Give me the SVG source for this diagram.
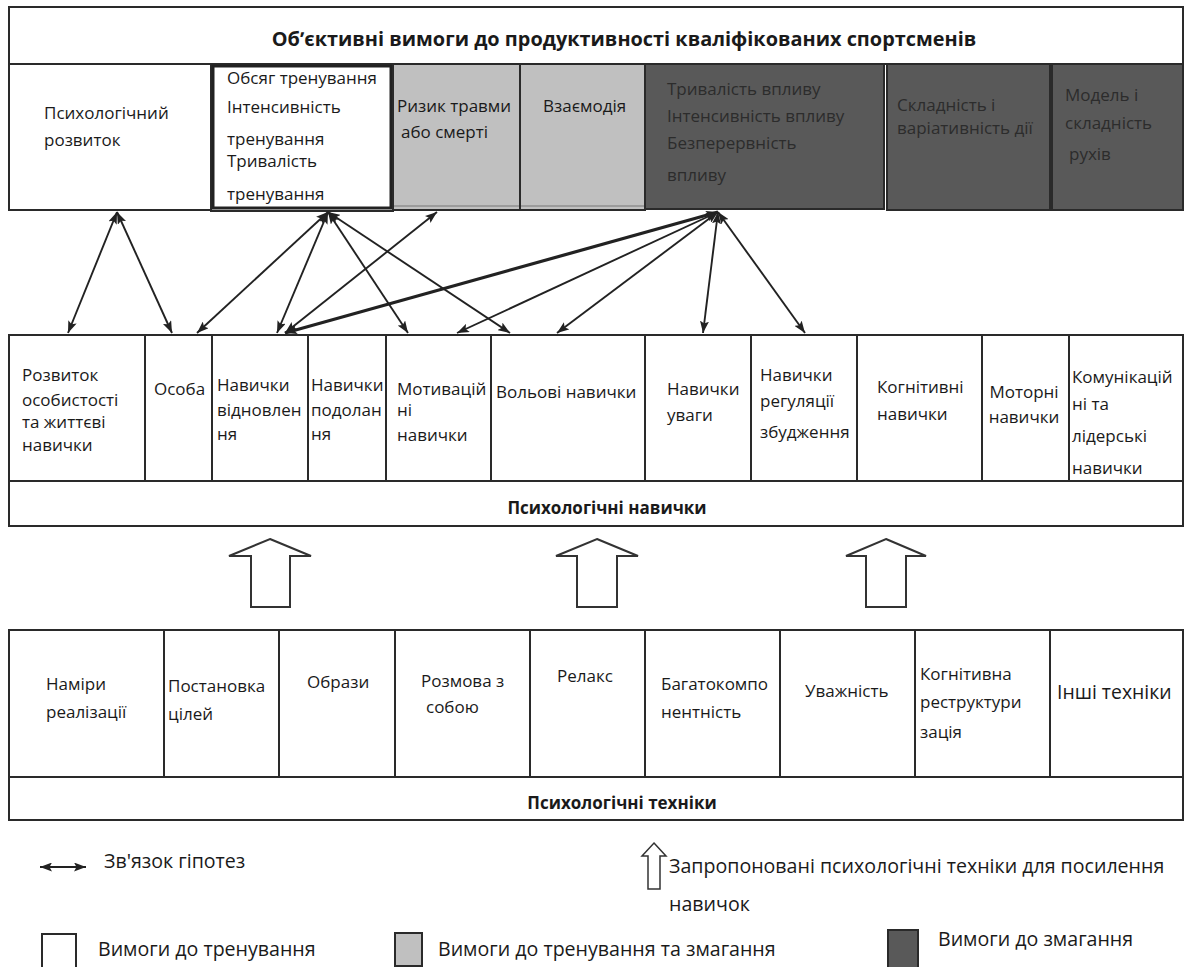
<svg xmlns="http://www.w3.org/2000/svg" width="1188" height="967" viewBox="0 0 1188 967">
<style>
.bx{stroke:#2a2a2a;stroke-width:2;fill:#fff}
.lg{fill:#c0c0c0}
.dk{fill:#595959}
.t{font-family:"Open Sans","Noto Sans",sans-serif;font-size:17px;fill:#1a1a1a}
.td{fill:#2c2c2c}
.b{font-weight:bold}
.leg{font-size:19.6px}
.ttl{font-size:19.9px}
.big{font-size:19.4px}
.cn{stroke:#222;stroke-width:1.9;fill:none;marker-start:url(#ah);marker-end:url(#ah)}
.ua{fill:#fff;stroke:#333;stroke-width:2}
</style>
<defs>
<marker id="ah" viewBox="0 0 12 9" refX="12" refY="4.5" markerWidth="12" markerHeight="9" markerUnits="userSpaceOnUse" orient="auto-start-reverse">
<path d="M0,0 L12,4.5 L0,9 L2.5,4.5 z" fill="#222"/>
</marker>
</defs>
<rect width="1188" height="967" fill="#fff"/>

<g id="title">
<rect class="bx" x="9" y="7" width="1174" height="57"/>
<text class="t b ttl" x="624" y="46" text-anchor="middle">Обʼєктивні вимоги до продуктивності кваліфікованих спортсменів</text>
</g>

<g id="req-psych-dev">
<rect class="bx" x="9" y="64" width="202" height="146"/>
<text class="t" x="44" y="119">Психологічний</text>
<text class="t" x="44" y="146">розвиток</text>
</g>
<g id="req-training-load">
<rect class="bx" x="211" y="64" width="182" height="147"/>
<rect x="213" y="66" width="178" height="142" fill="#fff" stroke="#222" stroke-width="3"/>
<text class="t" x="227" y="84">Обсяг тренування</text>
<text class="t" x="227" y="113">Інтенсивність</text>
<text class="t" x="227" y="145">тренування</text>
<text class="t" x="227" y="167">Тривалість</text>
<text class="t" x="227" y="200">тренування</text>
</g>
<g id="req-injury">
<rect class="bx lg" x="393" y="64" width="127" height="146"/>
<line x1="394" y1="206" x2="519" y2="206" stroke="#777" stroke-width="1"/>
<text class="t" x="397" y="112">Ризик травми</text>
<text class="t" x="401" y="138">або смерті</text>
</g>
<g id="req-interaction">
<rect class="bx lg" x="520" y="64" width="125" height="146"/>
<line x1="521" y1="206" x2="644" y2="206" stroke="#777" stroke-width="1"/>
<text class="t" x="543" y="112">Взаємодія</text>
</g>
<g id="req-impact">
<rect class="bx dk" x="645" y="64" width="239" height="145"/>
<text class="t td" x="667" y="95">Тривалість впливу</text>
<text class="t td" x="667" y="122">Інтенсивність впливу</text>
<text class="t td" x="667" y="149">Безперервність</text>
<text class="t td" x="667" y="181">впливу</text>
</g>
<g id="req-complexity">
<rect class="bx dk" x="887" y="64" width="163" height="146"/>
<text class="t td" x="897" y="111">Складність і</text>
<text class="t td" x="897" y="134">варіативність дії</text>
</g>
<g id="req-model">
<rect class="bx dk" x="1052" y="64" width="131" height="146"/>
<text class="t td" x="1065" y="101">Модель і</text>
<text class="t td" x="1065" y="129">складність</text>
<text class="t td" x="1069" y="160">рухів</text>
</g>

<g id="connectors">
<line class="cn" x1="117" y1="212" x2="68" y2="333"/>
<line class="cn" x1="117" y1="212" x2="172" y2="333"/>
<line class="cn" x1="328" y1="212" x2="197" y2="333"/>
<line class="cn" x1="328" y1="212" x2="277" y2="333"/>
<line class="cn" x1="328" y1="212" x2="408" y2="333"/>
<line class="cn" x1="328" y1="212" x2="510" y2="333"/>
<line class="cn" x1="437" y1="212" x2="285" y2="333"/>
<line class="cn" x1="718" y1="212" x2="285" y2="333" style="stroke-width:3.2"/>
<line class="cn" x1="718" y1="212" x2="457" y2="333"/>
<line class="cn" x1="718" y1="212" x2="557" y2="333"/>
<line class="cn" x1="718" y1="212" x2="703" y2="333"/>
<line class="cn" x1="718" y1="212" x2="805" y2="333"/>
</g>

<g id="skill-personal">
<rect class="bx" x="9" y="335" width="136" height="146"/>
<text class="t" x="22" y="381">Розвиток</text>
<text class="t" x="22" y="406">особистості</text>
<text class="t" x="22" y="428">та життєві</text>
<text class="t" x="22" y="451">навички</text>
</g>
<g id="skill-person">
<rect class="bx" x="145" y="335" width="67" height="146"/>
<text class="t" x="154" y="395">Особа</text>
</g>
<g id="skill-recovery">
<rect class="bx" x="212" y="335" width="96" height="146"/>
<text class="t" x="217" y="391">Навички</text>
<text class="t" x="217" y="416">відновлен</text>
<text class="t" x="217" y="440">ня</text>
</g>
<g id="skill-coping">
<rect class="bx" x="308" y="335" width="78" height="146"/>
<text class="t" x="311" y="391">Навички</text>
<text class="t" x="311" y="416">подолан</text>
<text class="t" x="311" y="440">ня</text>
</g>
<g id="skill-motivation">
<rect class="bx" x="386" y="335" width="105" height="146"/>
<text class="t" x="397" y="395">Мотивацій</text>
<text class="t" x="397" y="416">ні</text>
<text class="t" x="397" y="441">навички</text>
</g>
<g id="skill-volitional">
<rect class="bx" x="491" y="335" width="154" height="146"/>
<text class="t" x="496" y="398">Вольові навички</text>
</g>
<g id="skill-attention">
<rect class="bx" x="645" y="335" width="106" height="146"/>
<text class="t" x="667" y="395">Навички</text>
<text class="t" x="667" y="421">уваги</text>
</g>
<g id="skill-arousal">
<rect class="bx" x="751" y="335" width="106" height="146"/>
<text class="t" x="760" y="381">Навички</text>
<text class="t" x="760" y="407">регуляції</text>
<text class="t" x="760" y="438">збудження</text>
</g>
<g id="skill-cognitive">
<rect class="bx" x="857" y="335" width="125" height="146"/>
<text class="t" x="877" y="393">Когнітивні</text>
<text class="t" x="877" y="420">навички</text>
</g>
<g id="skill-motor">
<rect class="bx" x="982" y="335" width="87" height="146"/>
<text class="t" x="1024" y="398" text-anchor="middle">Моторні</text>
<text class="t" x="1024" y="423" text-anchor="middle">навички</text>
</g>
<g id="skill-communication">
<rect class="bx" x="1069" y="335" width="114" height="146"/>
<text class="t" x="1072" y="383">Комунікацій</text>
<text class="t" x="1072" y="410">ні та</text>
<text class="t" x="1072" y="442">лідерські</text>
<text class="t" x="1072" y="474">навички</text>
</g>
<g id="skills-band">
<rect class="bx" x="9" y="481" width="1174" height="45"/>
<text class="t b" x="607" y="514" text-anchor="middle">Психологічні навички</text>
</g>

<g id="up-arrows">
<polygon class="ua" points="270,539 311,556 290,556 290,607 251,607 251,556 229,556"/>
<polygon class="ua" points="597,539 638,556 617,556 617,607 577,607 577,556 556,556"/>
<polygon class="ua" points="886,539 926,556 906,556 906,607 866,607 866,556 846,556"/>
</g>

<g id="tech-intentions">
<rect class="bx" x="9" y="630" width="155" height="147"/>
<text class="t" x="46" y="690">Наміри</text>
<text class="t" x="46" y="718">реалізації</text>
</g>
<g id="tech-goals">
<rect class="bx" x="164" y="630" width="115" height="147"/>
<text class="t" x="168" y="692">Постановка</text>
<text class="t" x="168" y="720">цілей</text>
</g>
<g id="tech-imagery">
<rect class="bx" x="279" y="630" width="116" height="147"/>
<text class="t" x="307" y="688">Образи</text>
</g>
<g id="tech-selftalk">
<rect class="bx" x="395" y="630" width="135" height="147"/>
<text class="t" x="421" y="687">Розмова з</text>
<text class="t" x="426" y="713">собою</text>
</g>
<g id="tech-relax">
<rect class="bx" x="530" y="630" width="115" height="147"/>
<text class="t" x="557" y="682">Релакс</text>
</g>
<g id="tech-multi">
<rect class="bx" x="645" y="630" width="135" height="147"/>
<text class="t" x="661" y="690">Багатокомпо</text>
<text class="t" x="661" y="718">нентність</text>
</g>
<g id="tech-mindfulness">
<rect class="bx" x="780" y="630" width="135" height="147"/>
<text class="t" x="805" y="697">Уважність</text>
</g>
<g id="tech-cognitive">
<rect class="bx" x="915" y="630" width="135" height="147"/>
<text class="t" x="920" y="680">Когнітивна</text>
<text class="t" x="920" y="708">реструктури</text>
<text class="t" x="920" y="738">зація</text>
</g>
<g id="tech-other">
<rect class="bx" x="1050" y="630" width="133" height="147"/>
<text class="t big" x="1057" y="699">Інші техніки</text>
</g>
<g id="techniques-band">
<rect class="bx" x="9" y="777" width="1174" height="43"/>
<text class="t b" x="622" y="809" text-anchor="middle">Психологічні техніки</text>
</g>

<g id="legend">
<line class="cn" x1="40" y1="867" x2="86" y2="867"/>
<text class="t leg" x="104" y="868">Зв'язок гіпотез</text>
<polygon class="ua" style="stroke-width:1.5" points="654,843 666,856 660,856 660,889 648,889 648,856 642,856"/>
<text class="t leg" x="669" y="873">Запропоновані психологічні техніки для посилення</text>
<text class="t leg" x="669" y="911">навичок</text>
<rect class="bx" x="42" y="934" width="34" height="40"/>
<text class="t leg" x="98" y="956">Вимоги до тренування</text>
<rect class="bx lg" x="395" y="933" width="27" height="33"/>
<text class="t leg" x="438" y="956">Вимоги до тренування та змагання</text>
<rect class="bx dk" x="888" y="930" width="30" height="40"/>
<text class="t leg" x="938" y="946">Вимоги до змагання</text>
</g>
</svg>
